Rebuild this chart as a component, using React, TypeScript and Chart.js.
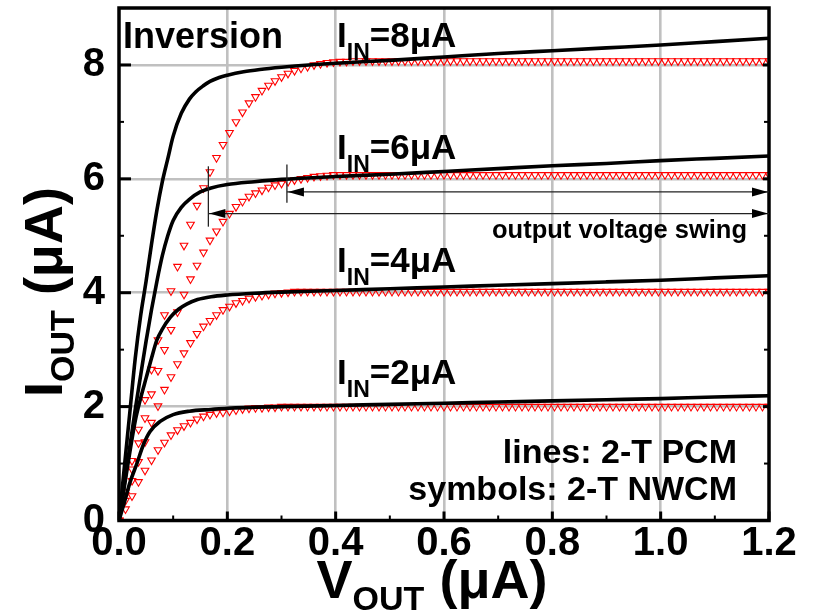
import React, { useEffect, useRef } from 'react';
import { Chart, registerables } from 'chart.js';

Chart.register(...registerables);

const FONT = '"Liberation Sans", Arial, Helvetica, sans-serif';

// ---- axes ----
const X_TICKS = [0, 0.2, 0.4, 0.6, 0.8, 1.0, 1.2];
const X_MINOR = [0.1, 0.3, 0.5, 0.7, 0.9, 1.1];
const Y_TICKS = [0, 2, 4, 6, 8];
const Y_MINOR = [1, 3, 5, 7];

// ---- symbols: 2-T NWCM (V_OUT sample points shared by all four series) ----
const SYM_V = [
  0, 0.012, 0.024, 0.036, 0.048, 0.06, 0.072, 0.084, 0.096, 0.108,
  0.12, 0.132, 0.144, 0.156, 0.168, 0.18, 0.192, 0.204, 0.216, 0.228,
  0.24, 0.252, 0.264, 0.276, 0.288, 0.3, 0.312, 0.324, 0.336, 0.348,
  0.36, 0.372, 0.384, 0.396, 0.408, 0.42, 0.432, 0.444, 0.456, 0.468,
  0.48, 0.492, 0.504, 0.516, 0.528, 0.54, 0.552, 0.564, 0.576, 0.588,
  0.6, 0.612, 0.624, 0.636, 0.648, 0.66, 0.672, 0.684, 0.696, 0.708,
  0.72, 0.732, 0.744, 0.756, 0.768, 0.78, 0.792, 0.804, 0.816, 0.828,
  0.84, 0.852, 0.864, 0.876, 0.888, 0.9, 0.912, 0.924, 0.936, 0.948,
  0.96, 0.972, 0.984, 0.996, 1.008, 1.02, 1.032, 1.044, 1.056, 1.068,
  1.08, 1.092, 1.104, 1.116, 1.128, 1.14, 1.152, 1.164, 1.176, 1.188,
  1.2,
];

const NWCM_8 = [
  0, 0.5, 1.05, 1.6, 2.12, 2.65, 3.17, 3.61, 4.03, 4.46,
  4.83, 5.2, 5.53, 5.84, 6.12, 6.37, 6.6, 6.81, 7.0, 7.17,
  7.33, 7.44, 7.55, 7.64, 7.72, 7.79, 7.85, 7.9, 7.94, 7.97,
  8.0, 8.02, 8.04, 8.05, 8.06, 8.06, 8.07, 8.07, 8.07, 8.07,
  8.07, 8.07, 8.07, 8.07, 8.07, 8.07, 8.07, 8.07, 8.07, 8.07,
  8.07, 8.07, 8.07, 8.07, 8.07, 8.07, 8.07, 8.07, 8.07, 8.07,
  8.07, 8.07, 8.07, 8.07, 8.07, 8.07, 8.07, 8.07, 8.07, 8.07,
  8.07, 8.07, 8.07, 8.07, 8.07, 8.07, 8.07, 8.07, 8.07, 8.07,
  8.07, 8.07, 8.07, 8.07, 8.07, 8.07, 8.07, 8.07, 8.07, 8.07,
  8.07, 8.07, 8.07, 8.07, 8.07, 8.07, 8.07, 8.07, 8.07, 8.07,
  8.07,
];

const NWCM_6 = [
  0, 0.45, 0.9, 1.36, 1.8, 2.22, 2.63, 3.0, 3.35, 3.66,
  3.97, 4.24, 4.48, 4.71, 4.92, 5.08, 5.25, 5.39, 5.51, 5.6,
  5.69, 5.75, 5.8, 5.85, 5.89, 5.92, 5.95, 5.98, 6.0, 6.02,
  6.04, 6.05, 6.06, 6.07, 6.07, 6.07, 6.07, 6.07, 6.07, 6.07,
  6.07, 6.07, 6.07, 6.07, 6.07, 6.07, 6.07, 6.07, 6.07, 6.07,
  6.07, 6.07, 6.07, 6.07, 6.07, 6.07, 6.07, 6.07, 6.07, 6.07,
  6.07, 6.07, 6.07, 6.07, 6.07, 6.07, 6.07, 6.07, 6.07, 6.07,
  6.07, 6.07, 6.07, 6.07, 6.07, 6.07, 6.07, 6.07, 6.07, 6.07,
  6.07, 6.07, 6.07, 6.07, 6.07, 6.07, 6.07, 6.07, 6.07, 6.07,
  6.07, 6.07, 6.07, 6.07, 6.07, 6.07, 6.07, 6.07, 6.07, 6.07,
  6.07,
];

const NWCM_4 = [
  0, 0.35, 0.7, 1.03, 1.38, 1.72, 2.01, 2.3, 2.52, 2.75,
  2.94, 3.12, 3.28, 3.41, 3.51, 3.61, 3.7, 3.76, 3.82, 3.86,
  3.9, 3.93, 3.95, 3.97, 3.99, 4.0, 4.01, 4.02, 4.02, 4.02,
  4.02, 4.02, 4.02, 4.02, 4.02, 4.02, 4.02, 4.02, 4.02, 4.02,
  4.02, 4.02, 4.02, 4.02, 4.02, 4.02, 4.02, 4.02, 4.02, 4.02,
  4.02, 4.02, 4.02, 4.02, 4.02, 4.02, 4.02, 4.02, 4.02, 4.02,
  4.02, 4.02, 4.02, 4.02, 4.02, 4.02, 4.02, 4.02, 4.02, 4.02,
  4.02, 4.02, 4.02, 4.02, 4.02, 4.02, 4.02, 4.02, 4.02, 4.02,
  4.02, 4.02, 4.02, 4.02, 4.02, 4.02, 4.02, 4.02, 4.02, 4.02,
  4.02, 4.02, 4.02, 4.02, 4.02, 4.02, 4.02, 4.02, 4.02, 4.02,
  4.02,
];

const NWCM_2 = [
  0, 0.2, 0.43, 0.68, 0.88, 1.06, 1.24, 1.37, 1.5, 1.59,
  1.66, 1.72, 1.78, 1.83, 1.86, 1.89, 1.9, 1.92, 1.94, 1.96,
  1.97, 1.98, 1.98, 1.99, 1.99, 2.0, 2.0, 2.0, 2.0, 2.0,
  2.0, 2.0, 2.0, 2.0, 2.0, 2.0, 2.0, 2.0, 2.0, 2.0,
  2.0, 2.0, 2.0, 2.0, 2.0, 2.0, 2.0, 2.0, 2.0, 2.0,
  2.0, 2.0, 2.0, 2.0, 2.0, 2.0, 2.0, 2.0, 2.0, 2.0,
  2.0, 2.0, 2.0, 2.0, 2.0, 2.0, 2.0, 2.0, 2.0, 2.0,
  2.0, 2.0, 2.0, 2.0, 2.0, 2.0, 2.0, 2.0, 2.0, 2.0,
  2.0, 2.0, 2.0, 2.0, 2.0, 2.0, 2.0, 2.0, 2.0, 2.0,
  2.0, 2.0, 2.0, 2.0, 2.0, 2.0, 2.0, 2.0, 2.0, 2.0,
  2.0,
];

// ---- lines: 2-T PCM ----
const PCM_8_V = [0, 0.01, 0.02, 0.03, 0.04, 0.05, 0.06, 0.07, 0.08, 0.09, 0.1, 0.115, 0.13, 0.142, 0.155, 0.168, 0.185, 0.2, 0.23, 0.26, 0.3, 0.35, 0.4, 0.5, 0.6, 0.7, 0.8, 0.9, 1.0, 1.1, 1.2];
const PCM_8_I = [0, 0.95, 1.9, 2.85, 3.6, 4.2, 4.85, 5.45, 5.95, 6.35, 6.75, 7.15, 7.4, 7.53, 7.63, 7.71, 7.78, 7.82, 7.88, 7.92, 7.96, 8.0, 8.03, 8.08, 8.14, 8.2, 8.25, 8.3, 8.35, 8.41, 8.47];

const PCM_6_V = [0, 0.01, 0.02, 0.03, 0.04, 0.05, 0.06, 0.07, 0.08, 0.09, 0.1, 0.115, 0.13, 0.15, 0.17, 0.2, 0.25, 0.3, 0.4, 0.5, 0.6, 0.7, 0.8, 0.9, 1.0, 1.1, 1.2];
const PCM_6_I = [0, 0.65, 1.3, 1.95, 2.55, 3.15, 3.7, 4.2, 4.65, 5.0, 5.27, 5.5, 5.64, 5.77, 5.84, 5.9, 5.95, 5.99, 6.04, 6.08, 6.13, 6.18, 6.23, 6.27, 6.32, 6.36, 6.4];

const PCM_4_V = [0, 0.01, 0.02, 0.03, 0.04, 0.05, 0.06, 0.07, 0.08, 0.095, 0.11, 0.125, 0.145, 0.17, 0.2, 0.25, 0.3, 0.4, 0.5, 0.6, 0.7, 0.8, 0.9, 1.0, 1.1, 1.2];
const PCM_4_I = [0, 0.6, 1.2, 1.75, 2.15, 2.5, 2.85, 3.17, 3.36, 3.57, 3.71, 3.8, 3.88, 3.93, 3.96, 3.99, 4.01, 4.04, 4.07, 4.1, 4.13, 4.16, 4.19, 4.22, 4.26, 4.3];

const PCM_2_V = [0, 0.01, 0.02, 0.033, 0.045, 0.057, 0.076, 0.1, 0.13, 0.17, 0.2, 0.3, 0.4, 0.5, 0.6, 0.7, 0.8, 0.9, 1.0, 1.1, 1.2];
const PCM_2_I = [0, 0.32, 0.66, 1.0, 1.33, 1.56, 1.74, 1.86, 1.92, 1.95, 1.97, 2.0, 2.02, 2.04, 2.06, 2.08, 2.1, 2.12, 2.14, 2.17, 2.19];

// ---- curve labels ----
const IN_LABELS = ['=8μA', '=6μA', '=4μA', '=2μA'];
const IN_LABEL_V = 0.4025;
const IN_LABEL_I = [8.33, 6.36, 4.39, 2.42];

// ---- output voltage swing arrows ----
const SWING_FROM = [0.31, 0.165];
const SWING_TO = 1.2;
const SWING_AT = [5.77, 5.39];
const SWING_MARK_TOP = [6.25, 6.22];
const SWING_MARK_BOTTOM = [5.58, 5.16];

const pts = (xs: number[], ys: number[]) => xs.map((x, i) => ({ x, y: ys[i] }));

function drawRich(ctx: CanvasRenderingContext2D, parts: [string, number, number][], x: number, y: number, align: string) {
  let w = 0;
  for (const [t, s] of parts) {
    ctx.font = `bold ${s}px ${FONT}`;
    w += ctx.measureText(t).width;
  }
  let cx = align === 'right' ? x - w : align === 'center' ? x - w / 2 : x;
  for (const [t, s, dy] of parts) {
    ctx.font = `bold ${s}px ${FONT}`;
    ctx.fillText(t, cx, y + dy);
    cx += ctx.measureText(t).width;
  }
}

function arrowHead(ctx: CanvasRenderingContext2D, tipX: number, y: number, dir: number) {
  ctx.beginPath();
  ctx.moveTo(tipX, y);
  ctx.lineTo(tipX - dir * 16, y - 4.5);
  ctx.lineTo(tipX - dir * 16, y + 4.5);
  ctx.closePath();
  ctx.fill();
}

const decorPlugin = {
  id: 'decor',
  afterDatasetsDraw(chart: any) {
    const { ctx, chartArea: a, scales } = chart;
    const xs = scales.x;
    const ys = scales.y;
    ctx.save();
    ctx.fillStyle = '#000';
    ctx.strokeStyle = '#000';
    ctx.lineCap = 'butt';

    // ticks (inward)
    ctx.lineWidth = 3;
    for (const v of X_TICKS) {
      const px = xs.getPixelForValue(v);
      ctx.beginPath(); ctx.moveTo(px, a.bottom); ctx.lineTo(px, a.bottom - 9); ctx.stroke();
    }
    for (const v of Y_TICKS) {
      const py = ys.getPixelForValue(v);
      ctx.beginPath(); ctx.moveTo(a.left, py); ctx.lineTo(a.left + 12, py); ctx.stroke();
      ctx.beginPath(); ctx.moveTo(a.right, py); ctx.lineTo(a.right - 6, py); ctx.stroke();
    }
    ctx.lineWidth = 2;
    for (const v of X_MINOR) {
      const px = xs.getPixelForValue(v);
      ctx.beginPath(); ctx.moveTo(px, a.bottom); ctx.lineTo(px, a.bottom - 5); ctx.stroke();
    }
    for (const v of Y_MINOR) {
      const py = ys.getPixelForValue(v);
      ctx.beginPath(); ctx.moveTo(a.left, py); ctx.lineTo(a.left + 5, py); ctx.stroke();
      ctx.beginPath(); ctx.moveTo(a.right, py); ctx.lineTo(a.right - 5, py); ctx.stroke();
    }

    // frame
    ctx.lineWidth = 3.5;
    ctx.strokeRect(a.left, a.top, a.right - a.left, a.bottom - a.top);

    // swing arrows
    ctx.lineWidth = 1.3;
    ctx.strokeStyle = '#222';
    for (let i = 0; i < SWING_FROM.length; i++) {
      const x0 = xs.getPixelForValue(SWING_FROM[i]);
      const x1 = xs.getPixelForValue(SWING_TO);
      const y = ys.getPixelForValue(SWING_AT[i]);
      ctx.beginPath(); ctx.moveTo(x0, y); ctx.lineTo(x1, y); ctx.stroke();
      ctx.beginPath();
      ctx.moveTo(x0, ys.getPixelForValue(SWING_MARK_TOP[i]));
      ctx.lineTo(x0, ys.getPixelForValue(SWING_MARK_BOTTOM[i]));
      ctx.stroke();
      arrowHead(ctx, x0 + 1, y, -1);
      arrowHead(ctx, x1 - 1, y, 1);
    }

    // texts
    ctx.textBaseline = 'alphabetic';
    ctx.textAlign = 'left';
    ctx.fillStyle = '#000';
    drawRich(ctx, [['Inversion', 36, 0]], 123, 48, 'left');
    for (let i = 0; i < IN_LABELS.length; i++) {
      drawRich(ctx, [['I', 35, 0], ['IN', 23, 13], [IN_LABELS[i], 35, 0]],
        xs.getPixelForValue(IN_LABEL_V), ys.getPixelForValue(IN_LABEL_I[i]) + 1, 'left');
    }
    drawRich(ctx, [['output voltage swing', 25.5, 0]], 747, 238, 'right');
    drawRich(ctx, [['lines: 2-T PCM', 34, 0]], 737, 463, 'right');
    drawRich(ctx, [['symbols: 2-T NWCM', 34, 0]], 737, 500, 'right');

    // axis titles
    drawRich(ctx, [['V', 54, 0], ['OUT', 34, 12], [' (μA)', 54, 0]], 432, 598, 'center');
    ctx.save();
    ctx.translate(62, 292);
    ctx.rotate(-Math.PI / 2);
    drawRich(ctx, [['I', 54, 0], ['OUT', 34, 12], [' (μA)', 54, 0]], 0, 0, 'center');
    ctx.restore();

    ctx.restore();
  },
};

export default function App() {
  const ref = useRef<HTMLCanvasElement | null>(null);

  useEffect(() => {
    const canvas = ref.current;
    if (!canvas) return;

    const sym = (ys: number[]) => ({
      data: pts(SYM_V, ys),
      showLine: false,
      pointStyle: 'triangle',
      rotation: 180,
      pointRadius: 4.4,
      pointBorderWidth: 1.1,
      pointBorderColor: '#ff0000',
      pointBackgroundColor: 'rgba(0,0,0,0)',
      borderColor: '#ff0000',
      backgroundColor: 'rgba(0,0,0,0)',
      order: 2,
    });
    const line = (xs: number[], ys: number[]) => ({
      data: pts(xs, ys),
      showLine: true,
      borderColor: '#000',
      borderWidth: 3.6,
      pointRadius: 0,
      cubicInterpolationMode: 'monotone',
      fill: false,
      order: 1,
    });

    const chart = new Chart(canvas, {
      type: 'line',
      data: {
        datasets: [
          sym(NWCM_8), sym(NWCM_6), sym(NWCM_4), sym(NWCM_2),
          line(PCM_8_V, PCM_8_I), line(PCM_6_V, PCM_6_I), line(PCM_4_V, PCM_4_I), line(PCM_2_V, PCM_2_I),
        ] as any,
      },
      options: {
        responsive: false,
        animation: false,
        events: [],
        layout: { padding: { left: 0, top: 8, right: 47, bottom: 0 } },
        plugins: { legend: { display: false }, tooltip: { enabled: false } },
        scales: {
          x: {
            type: 'linear',
            min: 0,
            max: 1.2,
            afterBuildTicks: (s: any) => { s.ticks = X_TICKS.map((v) => ({ value: v })); },
            afterFit: (s: any) => { s.height = 91.5; s.paddingLeft = 0; s.paddingRight = 0; },
            border: { display: false },
            grid: {
              drawTicks: false,
              lineWidth: 2.6,
              color: (c: any) => (c.tick && c.tick.value > 0.01 && c.tick.value < 1.19 ? '#c0c0c0' : 'rgba(0,0,0,0)'),
            },
            ticks: {
              color: '#000',
              padding: 3,
              maxRotation: 0,
              autoSkip: false,
              font: { family: FONT, size: 40, weight: 'bold', lineHeight: 1 },
              callback: (v: any) => Number(v).toFixed(1),
            },
          },
          y: {
            type: 'linear',
            min: 0,
            max: 9,
            afterBuildTicks: (s: any) => { s.ticks = Y_TICKS.map((v) => ({ value: v })); },
            afterFit: (s: any) => { s.width = 119; s.paddingTop = 0; s.paddingBottom = 0; },
            border: { display: false },
            grid: {
              drawTicks: false,
              lineWidth: 2.6,
              color: (c: any) => (c.tick && c.tick.value > 0.01 ? '#c0c0c0' : 'rgba(0,0,0,0)'),
            },
            ticks: {
              color: '#000',
              padding: 14,
              autoSkip: false,
              font: { family: FONT, size: 40, weight: 'bold', lineHeight: 1 },
              callback: (v: any) => String(v),
            },
          },
        },
      } as any,
      plugins: [decorPlugin],
    });

    return () => chart.destroy();
  }, []);

  return (
    <div style={{ position: 'absolute', left: 0, top: 0, width: 816, height: 612, background: '#fff' }}>
      <canvas ref={ref} width={816} height={612} style={{ display: 'block' }} />
    </div>
  );
}
